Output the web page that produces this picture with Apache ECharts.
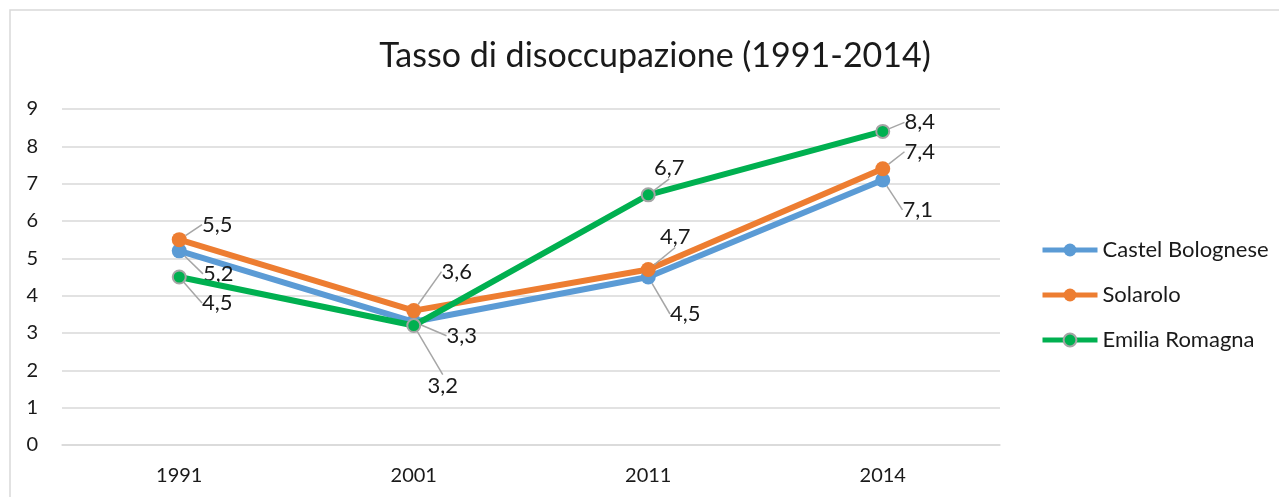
<!DOCTYPE html>
<html>
<head>
<meta charset="utf-8">
<script src="https://cdn.jsdelivr.net/npm/echarts@6/dist/echarts.min.js"></script>
<style>
  html,body{margin:0;padding:0;background:#fff}
  #main{width:1279px;height:497px}
</style>
</head>
<body>
<div id="main"></div>
<script>
var years = ['1991', '2001', '2011', '2014']
var castel = [5.2, 3.3, 4.5, 7.1]
var solarolo = [5.5, 3.6, 4.7, 7.4]
var emilia = [4.5, 3.2, 6.7, 8.4]

// callout shift of each label from its point (series x year)
var labelShift = [
  [[39, 23], [48, 14], [37, 37], [35, 30]],
  [[38, -15], [43, -39], [27, -33], [37, -17]],
  [[38, 26], [29, 60], [21, -27], [37, -9]]
]

var font = 'Lato'
var txt = '#1a1a1a'

function makeSerie(name, data, color, border){
  return {
    name: name,
    type: 'line',
    data: data,
    symbol: 'circle',
    symbolSize: border ? 13 : 15,
    lineStyle: {color: color, width: 6},
    itemStyle: {
      color: color,
      borderColor: border || color,
      borderWidth: border ? 2 : 0
    },
    label: {
      show: true,
      position: 'inside',
      color: txt,
      fontFamily: font,
      fontSize: 22,
      formatter: (p) => String(p.value).replace('.', ',')
    },
    labelLine: {
      show: true,
      lineStyle: {color: '#a6a6a6', width: 1.5}
    },
    labelLayout: (p) => {
      var s = labelShift[p.seriesIndex][p.dataIndex]
      return {dx: s[0], dy: s[1]}
    },
    emphasis: {disabled: true},
    z: border ? 3 : 2
  }
}

var chart = echarts.init(document.getElementById('main'))
chart.setOption({
  animation: false,
  title: {
    text: 'Tasso di disoccupazione (1991-2014)',
    left: 650,
    textAlign: 'center',
    top: 34,
    textStyle: {
      color: txt,
      fontFamily: font,
      fontSize: 34,
      fontWeight: 'normal'
    }
  },
  graphic: [{
    type: 'rect',
    shape: {x: 10, y: 10, width: 1400, height: 700},
    style: {fill: 'none', stroke: '#d9d9d9', lineWidth: 1.5},
    silent: true
  }],
  legend: {
    orient: 'vertical',
    left: 1035,
    top: 234,
    itemWidth: 55,
    itemHeight: 16,
    itemGap: 23,
    lineStyle: {width: 5},
    textStyle: {color: txt, fontFamily: font, fontSize: 22},
    data: ['Castel Bolognese', 'Solarolo', 'Emilia Romagna']
  },
  grid: {left: 62, right: 279, top: 109, bottom: 52},
  xAxis: {
    type: 'category',
    data: years,
    boundaryGap: true,
    axisLine: {lineStyle: {color: '#d9d9d9', width: 1.5}},
    axisTick: {show: false},
    axisLabel: {color: txt, fontFamily: font, fontSize: 20, margin: 21}
  },
  yAxis: {
    type: 'value',
    min: 0,
    max: 9,
    interval: 1,
    axisLine: {show: false},
    axisTick: {show: false},
    splitLine: {lineStyle: {color: '#d9d9d9', width: 1.5}},
    axisLabel: {color: txt, fontFamily: font, fontSize: 20, margin: 24}
  },
  series: [
    makeSerie('Castel Bolognese', castel, '#5b9bd5'),
    makeSerie('Solarolo', solarolo, '#ed7d31'),
    makeSerie('Emilia Romagna', emilia, '#00b050', '#a5a5a5')
  ]
})
</script>
</body>
</html>
